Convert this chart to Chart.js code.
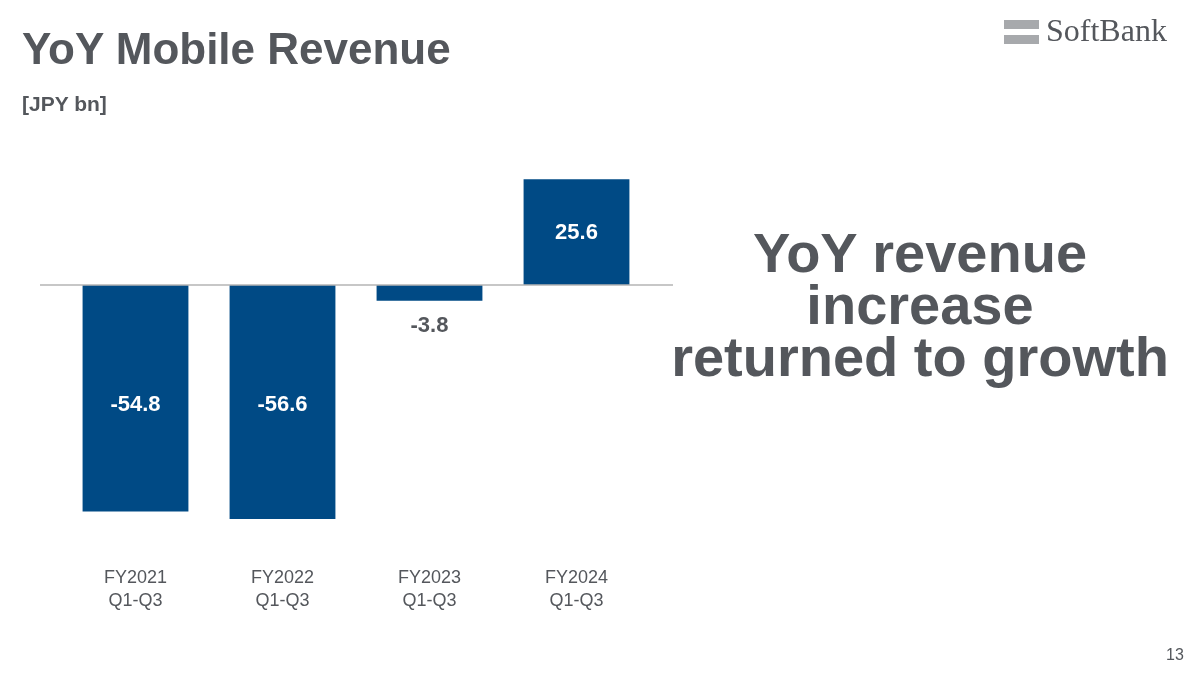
<!DOCTYPE html>
<html>
<head>
<meta charset="utf-8">
<script src="https://cdn.jsdelivr.net/npm/chart.js@4"></script>
<style>
  body { margin: 0; width: 1200px; height: 673px; background: #fff; overflow: hidden; font-family: Arial, "Liberation Sans", sans-serif; position: relative; }
  #title { position: absolute; left: 22px; top: 24px; font-size: 44px; font-weight: bold; color: #54575c; }
  #unit { position: absolute; left: 22px; top: 92px; font-size: 21px; font-weight: bold; color: #54575c; }
  #logo { position: absolute; left: 1004px; top: 16px; }
  #logo .bar { position: absolute; left: 0; width: 35px; height: 9px; background: #a7a9ac; }
  #logo .txt { position: absolute; left: 42px; top: -4px; font-family: "Liberation Serif", serif; font-size: 32px; color: #54575c; white-space: nowrap; }
  #msg { position: absolute; left: 660px; width: 520px; top: 227px; text-align: center; font-size: 56px; font-weight: bold; color: #54575c; line-height: 52px; }
  #page { position: absolute; left: 1166px; top: 646px; font-size: 16px; color: #54575c; }
  #wrap { position: absolute; left: 0; top: 0; width: 1200px; height: 673px; }
</style>
</head>
<body>
<div id="wrap"><canvas id="chart"></canvas></div>
<div id="title">YoY Mobile Revenue</div>
<div id="unit">[JPY bn]</div>
<div id="logo"><div class="bar" style="top:4px"></div><div class="bar" style="top:19px"></div><div class="txt">SoftBank</div></div>
<div id="msg">YoY revenue<br>increase<br>returned to growth</div>
<div id="page">13</div>
<script>
var categories = [['FY2021', 'Q1-Q3'], ['FY2022', 'Q1-Q3'], ['FY2023', 'Q1-Q3'], ['FY2024', 'Q1-Q3']];
var values = [-54.8, -56.6, -3.8, 25.6];

var ctx = document.getElementById('chart').getContext('2d');

var extras = {
  id: 'extras',
  afterDatasetsDraw: function(chart) {
    var c = chart.ctx;
    var xs = chart.scales.x, ys = chart.scales.y;
    var y0 = ys.getPixelForValue(0);
    c.save();
    // zero line
    c.strokeStyle = '#b4b4b4';
    c.lineWidth = 1.5;
    c.beginPath();
    c.moveTo(chart.chartArea.left - 22, y0);
    c.lineTo(chart.chartArea.right + 23, y0);
    c.stroke();
    c.textAlign = 'center';
    c.textBaseline = 'middle';
    values.forEach(function(v, i) {
      var x = xs.getPixelForValue(i);
      var yv = ys.getPixelForValue(v);
      c.font = 'bold 22px Arial, "Liberation Sans", sans-serif';
      if (Math.abs(v) < 10) {
        c.fillStyle = '#54575c';
        c.fillText(v.toFixed(1), x, yv + 25);
      } else if (v < 0) {
        c.fillStyle = '#ffffff';
        c.fillText(v.toFixed(1), x, ys.getPixelForValue(-29));
      } else {
        c.fillStyle = '#ffffff';
        c.fillText(v.toFixed(1), x, (y0 + yv) / 2 + 1);
      }
      c.font = '18px Arial, "Liberation Sans", sans-serif';
      c.fillStyle = '#54575c';
      c.fillText(categories[i][0], x, 578);
      c.fillText(categories[i][1], x, 601);
    });
    c.restore();
  }
};

var chart = new Chart(ctx, {
  type: 'bar',
  data: {
    labels: categories,
    datasets: [{
      data: values,
      backgroundColor: '#004a85',
      categoryPercentage: 1,
      barPercentage: 0.72
    }]
  },
  options: {
    responsive: true,
    maintainAspectRatio: false,
    animation: false,
    layout: { padding: { left: 62, right: 550, top: 161, bottom: 140 } },
    plugins: { legend: { display: false }, tooltip: { enabled: false } },
    scales: {
      x: { display: false },
      y: { display: false, min: -60, max: 30 }
    }
  },
  plugins: [extras]
});
</script>
</body>
</html>
